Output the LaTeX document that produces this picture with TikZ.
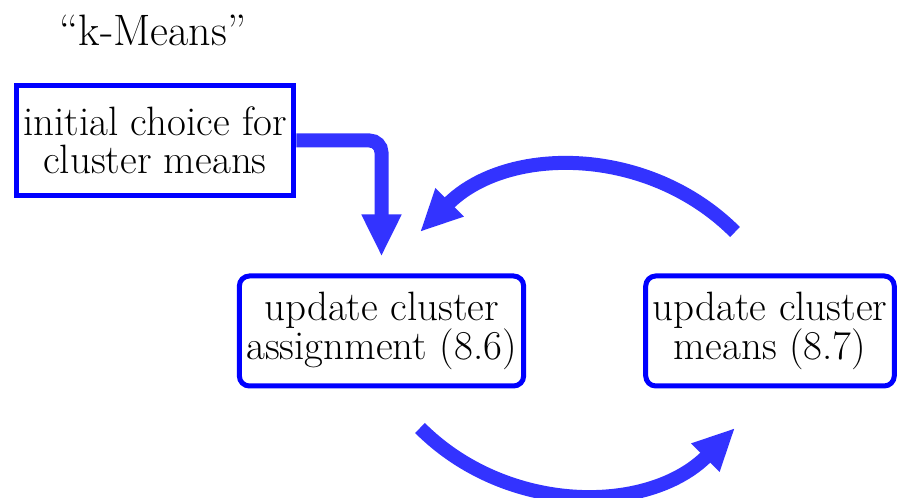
\documentclass[tikz,border=0pt]{standalone}
\usepackage{fontspec}
\usetikzlibrary{arrows.meta,positioning}
\begin{document}
\begin{tikzpicture}[x=1pt, y=1pt,
		every node/.style={font=\fontsize{41}{37.5}\selectfont, align=center},
		box/.style={draw=blue, line width=5pt, inner xsep=7pt, minimum height=110pt},
		flow/.style={draw=blue!80, line width=14pt, -{Triangle[length=42pt, width=37pt]}}]
		\useasboundingbox (0,0) rectangle (898,498);
		\node (title) [font=\fontsize{44}{44}\selectfont] at (153,468) {``k-Means''};
		\node (a) [box] at (155,357.5) {initial choice for\\cluster means};
		\node (b) [box, rounded corners=10pt] at (381.5,167) {update cluster\\assignment (8.6)};
		\node (c) [box, rounded corners=10pt] at (770,167) {update cluster\\means (8.7)};
		
		\coordinate (top1) at (735,266);
		\coordinate (top2) at (420,266);
		\coordinate (bot1) at (420,70);
		\coordinate (bot2) at (735,70);
		
		\draw[flow, rounded corners=12pt, shorten >=17pt] (a.east) -| (b.north);
		\draw[flow] (top1) to[bend right=45] (top2);
		\draw[flow] (bot1) to[bend right=45] (bot2);
	\end{tikzpicture}
\end{document}
